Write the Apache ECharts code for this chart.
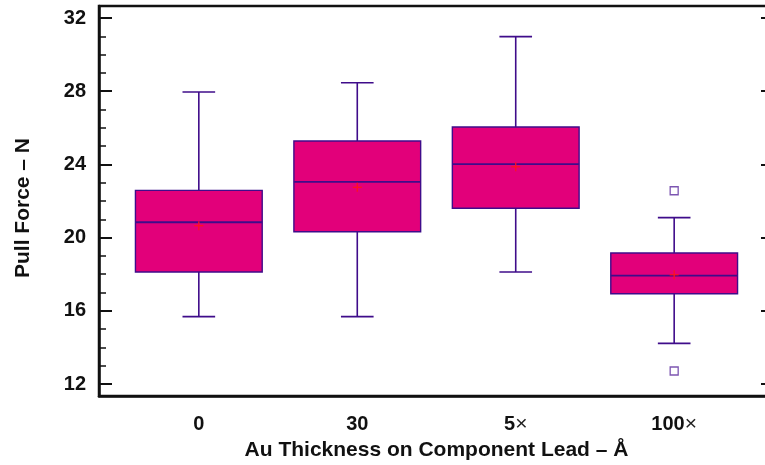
<!DOCTYPE html>
<html>
<head>
<meta charset="utf-8">
<script src="https://cdn.jsdelivr.net/npm/echarts@6/dist/echarts.min.js"></script>
<style>html,body{margin:0;padding:0;background:#fff;}#c{width:765px;height:465px;}</style>
</head>
<body>
<div id="c"></div>
<script>
// ---- data ----
const categories = ['0', '30', '5×', '100×'];
const lowerWhisker = [15.68, 15.68, 18.12, 14.22];
const q1 = [18.12, 20.32, 21.60, 16.93];
const median = [20.84, 23.05, 24.02, 17.92];
const q3 = [22.58, 25.28, 26.04, 19.16];
const upperWhisker = [27.96, 28.46, 30.98, 21.09];
const means = [20.65, 22.75, 23.87, 17.97];
const outlierCategory = [3, 3];
const outlierValues = [22.56, 12.71];
const yMajorTicks = [12, 16, 20, 24, 28, 32];
const yMinorTicks = [12,13,14,15,16,17,18,19,20,21,22,23,24,25,26,27,28,29,30,31,32];

const FONT = '"Liberation Sans", Arial, Helvetica, sans-serif';
const FILL = '#E2007A';
const STROKE = '#3F0C8A';
const YMIN = 11.344, YMAX = 32.656;

const boxData = categories.map((c, i) => [i, lowerWhisker[i], q1[i], median[i], q3[i], upperWhisker[i], means[i]]);
const outlierData = outlierCategory.map((c, i) => [c, outlierValues[i]]);

const chart = echarts.init(document.getElementById('c'), null, {renderer: 'canvas'});

function renderBox(params, api) {
  const x = api.value(0);
  const pLow = api.coord([x, api.value(1)]);
  const pQ1 = api.coord([x, api.value(2)]);
  const pMed = api.coord([x, api.value(3)]);
  const pQ3 = api.coord([x, api.value(4)]);
  const pHigh = api.coord([x, api.value(5)]);
  const pMean = api.coord([x, api.value(6)]);
  const halfW = api.size([0.8, 0])[0] / 2;
  const capW = api.size([0.206, 0])[0] / 2;
  const cx = pMed[0];
  const ls = {stroke: STROKE, lineWidth: 1.6};
  const ms = {stroke: '#FF1020', lineWidth: 1.3};
  return {
    type: 'group',
    children: [
      {type: 'line', shape: {x1: cx, y1: pQ3[1], x2: cx, y2: pHigh[1]}, style: ls},
      {type: 'line', shape: {x1: cx - capW, y1: pHigh[1], x2: cx + capW, y2: pHigh[1]}, style: ls},
      {type: 'line', shape: {x1: cx, y1: pQ1[1], x2: cx, y2: pLow[1]}, style: ls},
      {type: 'line', shape: {x1: cx - capW, y1: pLow[1], x2: cx + capW, y2: pLow[1]}, style: ls},
      {type: 'rect', shape: {x: cx - halfW, y: pQ3[1], width: halfW * 2, height: pQ1[1] - pQ3[1]},
        style: {fill: FILL, stroke: STROKE, lineWidth: 1.4}},
      {type: 'line', shape: {x1: cx - halfW, y1: pMed[1], x2: cx + halfW, y2: pMed[1]}, style: {stroke: STROKE, lineWidth: 1.8}},
      {type: 'line', shape: {x1: pMean[0] - 4.5, y1: pMean[1], x2: pMean[0] + 4.5, y2: pMean[1]}, style: ms},
      {type: 'line', shape: {x1: pMean[0], y1: pMean[1] - 4.5, x2: pMean[0], y2: pMean[1] + 4.5}, style: ms}
    ]
  };
}

const labelStyle = {fontFamily: FONT, fontWeight: 'bold', fontSize: 20, color: '#111'};

const option = {
  animation: false,
  backgroundColor: '#fff',
  grid: {left: 99, top: 6, width: 675, height: 390, outerBoundsMode: 'none', containLabel: false,
    show: true, borderColor: '#111', borderWidth: 2.5, backgroundColor: 'transparent'},
  xAxis: {
    type: 'value', min: -0.63, max: 3.63,
    splitLine: {show: false},
    axisLine: {show: true, onZero: false, lineStyle: {color: '#111', width: 2.5}},
    axisTick: {show: false},
    axisLabel: {
      customValues: [0, 1, 2, 3], margin: 18,
      formatter: function (v) {
        const s = categories[Math.round(v)] || '';
        if (s.indexOf('×') >= 0) return '{b|' + s.replace('×', '') + '}{x|×}';
        return '{b|' + s + '}';
      },
      rich: {
        b: {fontFamily: FONT, fontWeight: 'bold', fontSize: 20, color: '#111'},
        x: {fontFamily: FONT, fontWeight: 'normal', fontSize: 21, color: '#222'}
      }
    },
    name: 'Au Thickness on Component Lead – Å',
    nameLocation: 'middle', nameGap: 44,
    nameTextStyle: {fontFamily: FONT, fontWeight: 'bold', fontSize: 21, color: '#111'}
  },
  yAxis: [
    {
      type: 'value', min: YMIN, max: YMAX, position: 'left',
      splitLine: {show: false},
      axisLine: {show: true, onZero: false, lineStyle: {color: '#111', width: 2.5}},
      axisTick: {show: true, inside: true, length: 7, customValues: yMinorTicks, lineStyle: {color: '#111', width: 1.5}},
      axisLabel: Object.assign({customValues: yMajorTicks, margin: 13}, labelStyle)
    },
    {
      type: 'value', min: YMIN, max: YMAX, position: 'left',
      splitLine: {show: false}, axisLine: {show: false, onZero: false},
      axisTick: {show: true, inside: true, length: 13, customValues: yMajorTicks, lineStyle: {color: '#111', width: 2}},
      axisLabel: {show: false}
    },
    {
      type: 'value', min: YMIN, max: YMAX, position: 'right',
      splitLine: {show: false}, axisLine: {show: false, onZero: false},
      axisTick: {show: true, inside: true, length: 13, customValues: yMajorTicks, lineStyle: {color: '#111', width: 2}},
      axisLabel: {show: false}
    }
  ],
  graphic: [{
    type: 'text', x: 23, y: 208, rotation: Math.PI / 2,
    style: {text: 'Pull Force – N', fontFamily: FONT, fontWeight: 'bold', fontSize: 21, fill: '#111', align: 'center', verticalAlign: 'middle'}
  }],
  series: [
    {type: 'custom', xAxisIndex: 0, yAxisIndex: 0, renderItem: renderBox, data: boxData, clip: false,
      encode: {x: 0, y: [1, 2, 3, 4, 5, 6]}},
    {type: 'scatter', xAxisIndex: 0, yAxisIndex: 0, data: outlierData, symbol: 'rect', symbolSize: 8,
      itemStyle: {color: '#fff', borderColor: '#5B2A9E', borderWidth: 1.3}}
  ]
};
chart.setOption(option);
</script>
</body>
</html>
